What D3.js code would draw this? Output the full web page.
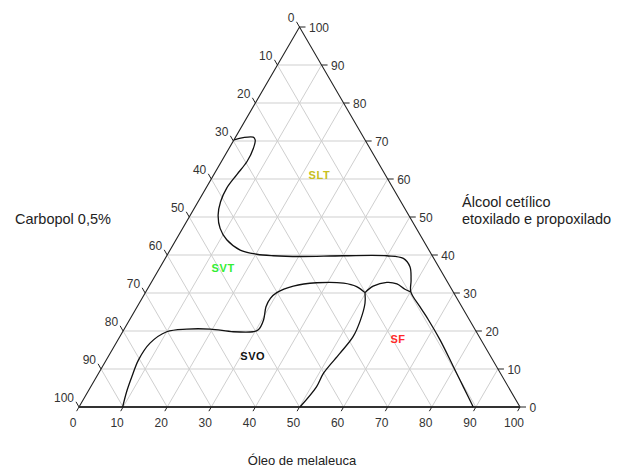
<!DOCTYPE html>
<html>
<head>
<meta charset="utf-8">
<script src="https://cdn.jsdelivr.net/npm/d3@7/dist/d3.min.js"></script>
<style>
  html, body { margin: 0; padding: 0; background: #fff; }
  svg { display: block; font-family: "Liberation Sans", Arial, sans-serif; }
</style>
</head>
<body>
<svg id="chart" width="617" height="468"></svg>
<script>
// Tick values for each side of the ternary diagram (percent)
const tickValues = [0, 10, 20, 30, 40, 50, 60, 70, 80, 90, 100];
const oilTickLabels = ["0","10","20","30","40","50","60","70","80","90","100"];
const carbopolTickLabels = ["0","10","20","30","40","50","60","70","80","90","100"];
const alcoholTickLabels = ["0","10","20","30","40","50","60","70","80","90","100"];

// Phase boundaries as [óleo %, álcool %] (Carbopol = 100 − óleo − álcool)
const boundarySLT = [[0,70.3],[1.8,70.9],[4.0,71.0],[4.8,70.3],[5.5,68.1],[5.8,64.6],[5.2,61.1],[4.7,57.6],
  [5.1,54.0],[6.3,50.5],[8.5,47.0],[11.5,44.0],[15.9,41.3],[20.2,40.2],[24.2,39.8],[30.3,39.6],[40.0,39.8],
  [49.9,39.8],[54.0,39.1],[56.6,36.9],[58.6,33.4],[60.1,30.3],[64.1,26.4],[67.8,22.9],[73.1,17.6],
  [79.6,10.6],[84.5,5.3],[89.4,0]];
const boundarySVT = [[9.9,0],[8.8,4.0],[8.0,8.0],[7.3,12.4],[7.7,16.8],[10.0,19.8],[14.2,20.5],[19.5,20.5],
  [25.1,19.8],[29.6,19.8],[30.5,20.3],[30.4,22.9],[29.2,26.4],[29.1,28.6],[29.8,30.1],[32.7,31.8],
  [37.5,32.7],[43.7,32.6],[47.1,31.7],[49.8,30.1]];
const boundaryHump = [[49.8,30.1],[50.8,31.8],[53.4,32.8],[55.9,32.4],[58.4,31.0],[60.1,30.3]];
const boundarySF = [[49.8,30.1],[51.2,27.3],[52.4,22.8],[52.9,18.5],[52.1,14.1],[51.0,8.9],[51.2,5.3],[50.1,0]];

// Region names and their composition [óleo %, álcool %]
const regionNames = ["SLT", "SVT", "SVO", "SF"];
const regionAt = [[24, 61], [14.4, 36.6], [32.7, 13.4], [63.4, 17.9]];
const regionColors = ["#c8c020", "#33ee33", "#111111", "#ff2a2a"];

const svg = d3.select("#chart");

// Triangle frame: bottom-left, bottom-right, apex
const x0 = 79, x1 = 520, yBase = 407, yTop = 27;
const sx = d3.scaleLinear().domain([0, 100]).range([x0, x1]);   // óleo along the base
const sy = d3.scaleLinear().domain([0, 100]).range([yBase, yTop]); // álcool height
const halfW = (x1 - x0) / 2;

function pos(o, a) {
  return [sx(o) + (a / 100) * halfW, sy(a)];
}

const gGrid = svg.append("g");
const gridVals = tickValues.slice(1, -1);
// constant álcool (horizontal)
gridVals.forEach(v => {
  const p = pos(0, v), q = pos(100 - v, v);
  gGrid.append("line").attr("x1", p[0]).attr("y1", p[1]).attr("x2", q[0]).attr("y2", q[1]);
});
// constant óleo
gridVals.forEach(v => {
  const p = pos(v, 0), q = pos(v, 100 - v);
  gGrid.append("line").attr("x1", p[0]).attr("y1", p[1]).attr("x2", q[0]).attr("y2", q[1]);
});
// constant Carbopol
gridVals.forEach(v => {
  const p = pos(100 - v, 0), q = pos(0, 100 - v);
  gGrid.append("line").attr("x1", p[0]).attr("y1", p[1]).attr("x2", q[0]).attr("y2", q[1]);
});
gGrid.selectAll("line").attr("stroke", "#cfcfcf").attr("stroke-width", 1);

// Frame
const A = pos(0, 100), L = pos(0, 0), R = pos(100, 0);
svg.append("path")
  .attr("d", `M${L[0]},${L[1]}L${A[0]},${A[1]}L${R[0]},${R[1]}`)
  .attr("fill", "none").attr("stroke", "#222").attr("stroke-width", 1.1);
svg.append("line")
  .attr("x1", L[0]).attr("y1", L[1]).attr("x2", R[0]).attr("y2", R[1])
  .attr("stroke", "#333").attr("stroke-width", 1.8);

// Ticks and labels
const gAx = svg.append("g").attr("font-size", 12).attr("fill", "#333");
const tLen = 6;
tickValues.forEach((v, i) => {
  // left side: Carbopol
  const pl = pos(0, 100 - v);
  gAx.append("line").attr("x1", pl[0]).attr("y1", pl[1])
    .attr("x2", pl[0] - tLen * 0.5).attr("y2", pl[1] - tLen * 0.866)
    .attr("stroke", "#222");
  gAx.append("text").attr("x", pl[0] - 5).attr("y", pl[1] - 5)
    .attr("text-anchor", "end").text(carbopolTickLabels[i]);
  // right side: álcool
  const pr = pos(100 - v, v);
  gAx.append("line").attr("x1", pr[0]).attr("y1", pr[1])
    .attr("x2", pr[0] + tLen).attr("y2", pr[1]).attr("stroke", "#222");
  gAx.append("text").attr("x", pr[0] + 9.5).attr("y", pr[1] + 4.5)
    .attr("text-anchor", "start").text(alcoholTickLabels[i]);
  // base: óleo
  const pb = pos(v, 0);
  gAx.append("line").attr("x1", pb[0]).attr("y1", pb[1])
    .attr("x2", pb[0] - tLen * 0.5 * 0.8).attr("y2", pb[1] + tLen * 0.866 * 0.8)
    .attr("stroke", "#222");
  gAx.append("text").attr("x", pb[0] - 6).attr("y", pb[1] + 20)
    .attr("text-anchor", "middle").text(oilTickLabels[i]);
});

// Phase boundaries
const line = d3.line()
  .x(d => pos(d[0], d[1])[0])
  .y(d => pos(d[0], d[1])[1])
  .curve(d3.curveCatmullRom.alpha(0.5));
[boundarySLT, boundarySVT, boundaryHump, boundarySF].forEach(b => {
  svg.append("path").attr("d", line(b))
    .attr("fill", "none").attr("stroke", "#111").attr("stroke-width", 1.3);
});

// Region names
regionNames.forEach((n, i) => {
  const p = pos(regionAt[i][0], regionAt[i][1]);
  svg.append("text").attr("x", p[0]).attr("y", p[1] + 4)
    .attr("text-anchor", "middle").attr("font-size", 11).attr("font-weight", "bold")
    .attr("letter-spacing", 0.6).attr("fill", regionColors[i]).text(n);
});

// Axis titles
const gT = svg.append("g").attr("fill", "#222");
gT.append("text").attr("x", 15).attr("y", 224).attr("font-size", 14.5).text("Carbopol 0,5%");
gT.append("text").attr("x", 462).attr("y", 207).attr("font-size", 14.5).text("Álcool cetílico");
gT.append("text").attr("x", 462).attr("y", 224).attr("font-size", 14.5).text("etoxilado e propoxilado");
gT.append("text").attr("x", 302).attr("y", 465).attr("font-size", 13).attr("text-anchor", "middle").text("Óleo de melaleuca");
</script>
</body>
</html>
